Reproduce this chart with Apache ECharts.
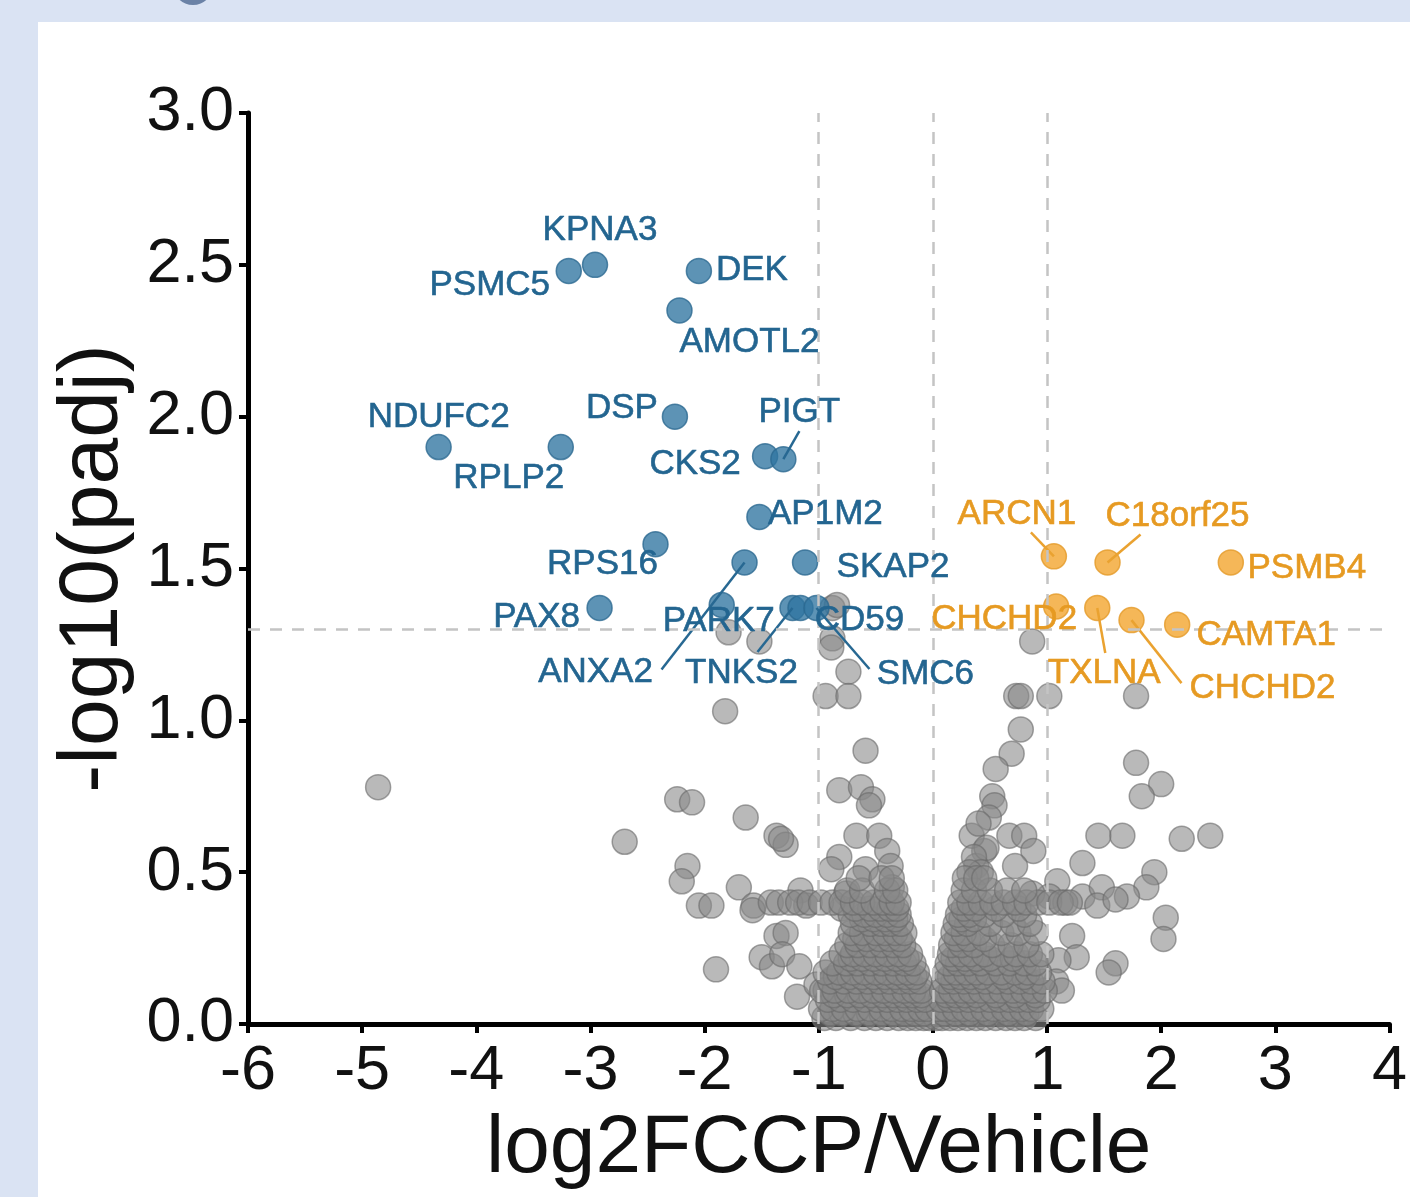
<!DOCTYPE html>
<html>
<head>
<meta charset="utf-8">
<title>Volcano plot</title>
<script src="https://cdn.jsdelivr.net/npm/echarts@6/dist/echarts.min.js"></script>
<style>
  html, body { margin: 0; padding: 0; background: #dae3f3; }
  #chart { width: 1410px; height: 1197px; }
</style>
</head>
<body>
<div id="chart"></div>
<script>
// significant down (blue) genes
const downGenes = ['KPNA3', 'PSMC5', 'DEK', 'AMOTL2', 'DSP', 'NDUFC2', 'RPLP2', 'CKS2', 'PIGT',
  'AP1M2', 'RPS16', 'ANXA2', 'SKAP2', 'PAX8', 'PARK7', 'TNKS2', 'CD59', 'SMC6']
const downX = [-2.96, -3.19, -2.05, -2.22, -2.26, -4.33, -3.26, -1.47, -1.31,
  -1.52, -2.43, -1.65, -1.12, -2.92, -1.85, -1.23, -1.16, -1.02]
const downY = [2.50, 2.48, 2.48, 2.35, 2.00, 1.90, 1.90, 1.87, 1.86,
  1.67, 1.58, 1.52, 1.52, 1.37, 1.38, 1.37, 1.37, 1.37]

// significant up (orange) genes
const upGenes = ['ARCN1', 'C18orf25', 'PSMB4', 'CHCHD2', 'TXLNA', 'CHCHD2', 'CAMTA1']
const upX = [1.06, 1.53, 2.61, 1.08, 1.44, 1.74, 2.14]
const upY = [1.54, 1.52, 1.52, 1.375, 1.37, 1.33, 1.315]

// non-significant proteins [log2FC, -log10(padj)]
const grayPoints = [
  [-4.86, 0.78], [-2.70, 0.60], [-1.82, 1.03], [-1.79, 1.29], [-1.52, 1.26], [-0.88, 1.37], [-0.84, 1.38],
  [-0.88, 1.27], [-0.89, 1.24], [-0.74, 1.16], [-0.94, 1.08], [-0.74, 1.08], [-0.59, 0.90],
  [0.87, 1.26], [0.73, 1.08], [0.77, 1.08], [1.02, 1.08], [1.78, 1.08], [0.77, 0.97], [0.69, 0.89],
  [0.55, 0.84], [1.78, 0.86], [2.00, 0.79], [1.83, 0.75], [0.52, 0.75], [0.54, 0.72], [0.49, 0.68],
  [1.45, 0.62], [1.66, 0.62], [2.18, 0.61], [2.43, 0.62], [0.67, 0.62], [0.80, 0.62], [0.88, 0.57],
  [0.72, 0.52], [0.45, 0.57], [0.38, 0.52], [0.34, 0.62], [0.47, 0.58], [1.31, 0.53], [1.94, 0.50],
  [1.09, 0.47], [1.31, 0.42], [1.48, 0.45], [1.44, 0.39], [1.87, 0.45], [1.70, 0.42], [1.60, 0.41],
  [2.04, 0.35], [2.02, 0.28], [1.22, 0.29], [1.26, 0.22], [1.60, 0.20], [1.54, 0.17], [1.10, 0.21],
  [1.08, 0.14], [1.13, 0.11], [1.02, 0.42], [1.16, 0.40], [0.87, 0.43],
  [0.40, 0.66], [0.36, 0.55], [0.42, 0.50], [0.32, 0.50],
  [-2.24, 0.74], [-2.11, 0.73], [-1.64, 0.68], [-1.37, 0.62], [-1.29, 0.59], [-1.33, 0.61], [-2.15, 0.52],
  [-2.20, 0.47], [-2.05, 0.39], [-1.94, 0.39], [-1.70, 0.45], [-1.57, 0.39], [-1.58, 0.375], [-1.90, 0.18],
  [-1.50, 0.22], [-1.41, 0.19], [-1.37, 0.29], [-1.29, 0.30], [-1.32, 0.23], [-1.17, 0.19], [-1.19, 0.09],
  [-1.02, 0.13], [-1.16, 0.44], [-1.11, 0.39], [-0.82, 0.77], [-0.63, 0.78], [-0.53, 0.74], [-0.56, 0.72],
  [-0.67, 0.62], [-0.47, 0.62], [-0.40, 0.57], [-0.37, 0.52], [-0.82, 0.55], [-0.89, 0.51], [-0.59, 0.51],
  [-0.36, 0.45], [-0.76, 0.43], [-0.80, 0.38], [-0.59, 0.29], [-0.60, 0.32], [-0.56, 0.21], [-0.41, 0.28],
  [-0.88, 0.15], [-0.94, 0.11], [-0.71, 0.09],
  [-0.95, 0.02], [-0.85, 0.02], [-0.72, 0.02], [-0.6, 0.02], [-0.5, 0.02], [-0.4, 0.02], [-0.3, 0.02],
  [-0.22, 0.02], [-0.15, 0.02], [-0.08, 0.02], [-0.03, 0.02], [0.03, 0.02], [0.08, 0.02], [0.15, 0.02],
  [0.22, 0.02], [0.3, 0.02], [0.38, 0.02], [0.46, 0.02], [0.55, 0.02], [0.64, 0.02], [0.72, 0.02],
  [0.8, 0.02], [0.9, 0.02],
  [-0.9, 0.035], [-0.8, 0.035], [-0.68, 0.035], [-0.56, 0.035], [-0.45, 0.035], [-0.35, 0.035],
  [-0.25, 0.035], [-0.16, 0.035], [-0.08, 0.035], [0.1, 0.035], [0.2, 0.035], [0.32, 0.035],
  [0.48, 0.035], [0.66, 0.035], [0.82, 0.035],
  [-0.98, 0.05], [-0.88, 0.05], [-0.78, 0.05], [-0.66, 0.05], [-0.55, 0.05], [-0.45, 0.05], [-0.36, 0.05],
  [-0.27, 0.05], [-0.19, 0.05], [-0.11, 0.05], [-0.05, 0.05], [0.05, 0.05], [0.11, 0.05], [0.19, 0.05],
  [0.27, 0.05], [0.35, 0.05], [0.44, 0.05], [0.53, 0.05], [0.62, 0.05], [0.7, 0.05], [0.78, 0.05],
  [0.86, 0.05], [0.95, 0.05],
  [-0.92, 0.08], [-0.81, 0.08], [-0.7, 0.08], [-0.6, 0.08], [-0.49, 0.08], [-0.4, 0.08], [-0.31, 0.08],
  [-0.23, 0.08], [-0.14, 0.08], [-0.07, 0.08], [0.07, 0.08], [0.14, 0.08], [0.22, 0.08], [0.31, 0.08],
  [0.4, 0.08], [0.5, 0.08], [0.58, 0.08], [0.67, 0.08], [0.75, 0.08], [0.84, 0.08], [0.92, 0.08],
  [-0.87, 0.095], [-0.75, 0.095], [-0.64, 0.095], [-0.54, 0.095], [-0.44, 0.095], [-0.35, 0.095],
  [-0.26, 0.095], [-0.18, 0.095], [-0.1, 0.095], [0.12, 0.095], [0.2, 0.095], [0.28, 0.095],
  [0.38, 0.095], [0.55, 0.095], [0.72, 0.095], [0.9, 0.095],
  [-0.97, 0.11], [-0.86, 0.11], [-0.74, 0.11], [-0.63, 0.11], [-0.52, 0.11], [-0.43, 0.11], [-0.34, 0.11],
  [-0.25, 0.11], [-0.17, 0.11], [-0.1, 0.11], [0.08, 0.11], [0.16, 0.11], [0.25, 0.11], [0.33, 0.11],
  [0.42, 0.11], [0.51, 0.11], [0.6, 0.11], [0.7, 0.11], [0.79, 0.11], [0.88, 0.11], [0.98, 0.11],
  [-0.9, 0.14], [-0.78, 0.14], [-0.67, 0.14], [-0.57, 0.14], [-0.47, 0.14], [-0.38, 0.14], [-0.28, 0.14],
  [-0.2, 0.14], [-0.12, 0.14], [0.1, 0.14], [0.18, 0.14], [0.27, 0.14], [0.36, 0.14], [0.46, 0.14],
  [0.56, 0.14], [0.66, 0.14], [0.76, 0.14], [0.86, 0.14], [0.96, 0.14],
  [-0.85, 0.155], [-0.73, 0.155], [-0.62, 0.155], [-0.52, 0.155], [-0.42, 0.155], [-0.33, 0.155],
  [-0.24, 0.155], [-0.16, 0.155], [0.15, 0.155], [0.24, 0.155], [0.33, 0.155], [0.43, 0.155],
  [0.62, 0.155], [0.8, 0.155],
  [-0.94, 0.17], [-0.82, 0.17], [-0.7, 0.17], [-0.6, 0.17], [-0.5, 0.17], [-0.41, 0.17], [-0.31, 0.17],
  [-0.22, 0.17], [-0.14, 0.17], [0.11, 0.17], [0.2, 0.17], [0.29, 0.17], [0.38, 0.17], [0.48, 0.17],
  [0.6, 0.17], [0.72, 0.17], [0.83, 0.17], [0.93, 0.17],
  [-0.88, 0.2], [-0.76, 0.2], [-0.66, 0.2], [-0.55, 0.2], [-0.45, 0.2], [-0.35, 0.2], [-0.25, 0.2],
  [-0.17, 0.2], [0.13, 0.2], [0.22, 0.2], [0.31, 0.2], [0.42, 0.2], [0.55, 0.2], [0.67, 0.2], [0.8, 0.2],
  [0.9, 0.2],
  [-0.72, 0.215], [-0.62, 0.215], [-0.52, 0.215], [-0.42, 0.215], [-0.32, 0.215], [-0.23, 0.215],
  [0.18, 0.215], [0.28, 0.215], [0.38, 0.215], [0.5, 0.215], [0.7, 0.215],
  [-0.8, 0.23], [-0.7, 0.23], [-0.6, 0.23], [-0.5, 0.23], [-0.4, 0.23], [-0.3, 0.23], [-0.2, 0.23],
  [0.15, 0.23], [0.24, 0.23], [0.33, 0.23], [0.45, 0.23], [0.6, 0.23], [0.73, 0.23], [0.85, 0.23],
  [0.95, 0.23],
  [-0.75, 0.26], [-0.66, 0.26], [-0.55, 0.26], [-0.45, 0.26], [-0.35, 0.26], [-0.26, 0.26], [0.16, 0.26],
  [0.25, 0.26], [0.36, 0.26], [0.52, 0.26], [0.68, 0.26], [0.82, 0.26],
  [-0.68, 0.28], [-0.58, 0.28], [-0.47, 0.28], [-0.38, 0.28], [-0.29, 0.28], [0.21, 0.28], [0.31, 0.28],
  [0.45, 0.28],
  [-0.72, 0.3], [-0.62, 0.3], [-0.5, 0.3], [-0.42, 0.3], [-0.33, 0.3], [-0.25, 0.3], [0.18, 0.3],
  [0.27, 0.3], [0.4, 0.3], [0.6, 0.3], [0.75, 0.3], [0.9, 0.3],
  [-0.7, 0.33], [-0.55, 0.33], [-0.45, 0.33], [-0.37, 0.33], [-0.28, 0.33], [0.2, 0.33], [0.3, 0.33],
  [0.5, 0.33], [0.7, 0.33], [0.85, 0.33],
  [-0.62, 0.345], [-0.52, 0.345], [-0.42, 0.345], [-0.33, 0.345], [0.25, 0.345], [0.36, 0.345],
  [-0.72, 0.36], [-0.6, 0.36], [-0.5, 0.36], [-0.4, 0.36], [-0.3, 0.36], [0.22, 0.36], [0.32, 0.36],
  [0.45, 0.36], [0.62, 0.36], [0.8, 0.36],
  [-0.68, 0.38], [-0.55, 0.38], [-0.46, 0.38], [-0.38, 0.38], [-0.32, 0.38], [0.27, 0.38], [0.37, 0.38],
  [0.55, 0.38], [0.75, 0.38],
  [-1.42, 0.40], [-1.35, 0.40], [-1.25, 0.40], [-1.18, 0.40], [-1.08, 0.40], [-0.98, 0.40], [-0.88, 0.40],
  [-0.8, 0.40], [-0.7, 0.40], [-0.62, 0.40], [-0.52, 0.40], [-0.44, 0.40], [-0.36, 0.40], [-0.3, 0.40],
  [0.24, 0.40], [0.32, 0.40], [0.42, 0.40], [0.52, 0.40], [0.62, 0.40], [0.72, 0.40], [0.82, 0.40],
  [0.92, 0.40], [1.02, 0.40], [1.12, 0.40], [1.2, 0.40],
  [-0.75, 0.44], [-0.62, 0.44], [-0.4, 0.44], [-0.33, 0.44], [0.27, 0.44], [0.36, 0.44], [0.5, 0.44],
  [0.65, 0.44], [0.8, 0.44],
  [-0.65, 0.48], [-0.45, 0.48], [-0.36, 0.48], [0.28, 0.48], [0.38, 0.48], [0.45, 0.48]
]

const xTicks = [-6, -5, -4, -3, -2, -1, 0, 1, 2, 3, 4]
const yTicks = ['0.0', '0.5', '1.0', '1.5', '2.0', '2.5', '3.0']
const fcCutoffs = [-1, 0, 1]
const padjCutoff = 1.3

// label layout (px, relative to the point): label centre offset, and leader line end (null = no line)
const downLabelOffset = [[5, -34], [-79, 14], [53, -1], [70, 32], [-53, -8], [0, -30], [-52, 31], [-70, 8],
  [16, -47], [66, -3], [-53, 20], [-149, 110], [88, 5], [-63, 9], [-3, 16], [-51, 65], [59, 12], [109, 66]]
const downLineEnd = [null, null, null, null, null, null, null, null,
  [16, -28], null, null, [-83, 107], null, null, null, [-35, 44], null, [53, 61]]
const upLabelOffset = [[-37, -42], [70, -46], [76, 6], [-52, 13], [7, 65], [131, 68], [89, 11]]
const upLineEnd = [[-23, -24], [33, -28], null, null, [8, 45], [50, 63], null]

const blue = '#2f75a0'
const blueText = '#236590'
const blueLine = '#276892'
const orange = '#f2a52e'
const orangeText = '#e69a22'
const orangeLine = '#eaa230'
const font = '"Liberation Sans", Arial, sans-serif'

const chart = echarts.init(document.getElementById('chart'))

function labelSeries(name, xs, ys, genes, offsets, color) {
  return {
    name: name,
    type: 'scatter',
    z: 5,
    symbolSize: 1,
    silent: true,
    itemStyle: { color: 'transparent' },
    label: {
      show: true,
      position: 'inside',
      formatter: p => genes[p.dataIndex],
      color: color,
      opacity: 1,
      fontSize: 35,
      fontFamily: font,
      textBorderColor: color,
      textBorderWidth: 0.6
    },
    labelLayout: p => ({ dx: offsets[p.dataIndex][0], dy: offsets[p.dataIndex][1] }),
    data: xs.map((x, i) => [x, ys[i]])
  }
}

// leader lines: start at the point (through the axes), end at a px offset
function leaderSeries(name, xs, ys, lineEnds, color) {
  return {
    name: name,
    type: 'custom',
    z: 4,
    silent: true,
    renderItem: (params, api) => {
      const i = api.value(2)
      const p = api.coord([api.value(0), api.value(1)])
      const e = lineEnds[i]
      return {
        type: 'line',
        shape: { x1: p[0], y1: p[1], x2: p[0] + e[0], y2: p[1] + e[1] },
        style: { stroke: color, lineWidth: 2.5 }
      }
    },
    data: xs.map((x, i) => [x, ys[i], i]).filter(d => lineEnds[d[2]])
  }
}

chart.setOption({
  backgroundColor: '#dae3f3',
  animation: false,
  graphic: [
    { type: 'rect', z: -10, shape: { x: 38, y: 22, width: 1372, height: 1175 }, style: { fill: '#ffffff' } },
    { type: 'circle', z: -10, shape: { cx: 193, cy: -15, r: 20 }, style: { fill: '#6b82a6' } }
  ],
  grid: { left: 248, right: 20, top: 113, bottom: 173, containLabel: false },
  xAxis: {
    type: 'value',
    min: xTicks[0],
    max: xTicks[xTicks.length - 1],
    interval: 1,
    name: 'log2FCCP/Vehicle',
    nameLocation: 'middle',
    nameGap: 76,
    nameTextStyle: { fontSize: 82, color: '#111', fontFamily: font },
    axisLine: { onZero: false, lineStyle: { color: '#000', width: 5 } },
    axisTick: { show: true, length: 9, lineStyle: { color: '#000', width: 4 } },
    axisLabel: { fontSize: 63, color: '#111', margin: 16, fontFamily: font },
    splitLine: { show: false }
  },
  yAxis: {
    type: 'value',
    min: 0,
    max: 3,
    interval: 0.5,
    name: '-log10(padj)',
    nameLocation: 'middle',
    nameGap: 112,
    nameTextStyle: { fontSize: 84, color: '#111', fontFamily: font },
    axisLine: { onZero: false, lineStyle: { color: '#000', width: 5 } },
    axisTick: { show: true, length: 9, lineStyle: { color: '#000', width: 4 } },
    axisLabel: {
      fontSize: 63, color: '#111', margin: 14, fontFamily: font,
      formatter: v => yTicks[Math.round(v * 2)]
    },
    splitLine: { show: false }
  },
  series: [
    {
      name: 'cutoffs',
      type: 'scatter',
      z: 1,
      data: [],
      markLine: {
        silent: true,
        symbol: 'none',
        label: { show: false },
        lineStyle: { color: '#c4c4c4', width: 2.5, type: [12, 10] },
        data: fcCutoffs.map(v => ({ xAxis: v })).concat([{ yAxis: padjCutoff }])
      }
    },
    {
      name: 'ns',
      type: 'scatter',
      z: 2,
      symbolSize: 25,
      itemStyle: { color: 'rgba(136,136,136,0.74)', borderColor: 'rgba(105,105,105,0.75)', borderWidth: 1.5 },
      data: grayPoints
    },
    {
      name: 'down',
      type: 'scatter',
      z: 3,
      symbolSize: 25,
      itemStyle: { color: blue, opacity: 0.78, borderColor: '#2a6890', borderWidth: 1.5 },
      data: downX.map((x, i) => [x, downY[i]])
    },
    {
      name: 'up',
      type: 'scatter',
      z: 3,
      symbolSize: 25,
      itemStyle: { color: orange, opacity: 0.8, borderColor: '#e39a28', borderWidth: 1.5 },
      data: upX.map((x, i) => [x, upY[i]])
    },
    leaderSeries('downLines', downX, downY, downLineEnd, blueLine),
    leaderSeries('upLines', upX, upY, upLineEnd, orangeLine),
    labelSeries('downLabels', downX, downY, downGenes, downLabelOffset, blueText),
    labelSeries('upLabels', upX, upY, upGenes, upLabelOffset, orangeText)
  ]
})
</script>
</body>
</html>
